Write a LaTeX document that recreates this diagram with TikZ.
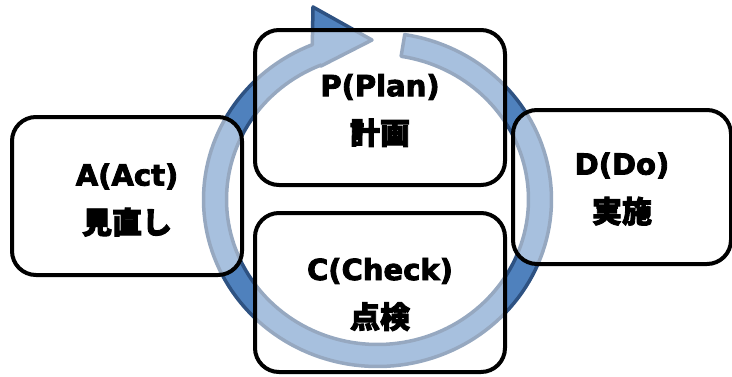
\documentclass[tikz,border=0pt]{standalone}
\usepackage{fontspec}
\newfontfamily\latinfont{DejaVu Sans}[BoldFeatures={FakeBold=3}]
\newfontfamily\jpfont{Noto Sans CJK JP}[BoldFeatures={FakeBold=3}]
\definecolor{arrowfill}{HTML}{4F81BD}
\definecolor{arrowline}{HTML}{2E5282}
\tikzset{
  cyclebox/.style={draw=black, line width=4pt, rounded corners=24pt, fill=white,
    fill opacity=0.5, inner sep=0pt},
  boxlabel/.style={align=center, inner sep=0pt,
    font=\fontsize{29}{48}\selectfont\bfseries},
  cyclearrow/.style={fill=arrowfill, draw=arrowline, line width=3.5pt, line join=round}
}
\newcommand{\boxtext}[2]{{\latinfont\bfseries #1}\\{\jpfont\bfseries\fontsize{30}{48}\selectfont #2}}
\begin{document}
\begin{tikzpicture}[x=1pt,y=-1pt]
\useasboundingbox (0,0) rectangle (732,376);
% circular arrow
\draw[cyclearrow]
  plot[domain=-81:248, samples=150] ({377.5+174*cos(\x)},{199.5+167*sin(\x)})
  -- (313,7) -- (372,40) -- (321,66)
  -- plot[domain=248:-81, samples=150] ({377.5+151*cos(\x)},{199.5+145*sin(\x)})
  -- cycle;
% boxes
\node[cyclebox, minimum width=250pt, minimum height=155pt] (plan) at (380,107.5) {};
\node[cyclebox, minimum width=250pt, minimum height=159pt] (check) at (380,292.5) {};
\node[cyclebox, minimum width=230pt, minimum height=158pt] (act) at (127,196) {};
\node[cyclebox, minimum width=218pt, minimum height=154pt] (do) at (622,187) {};
% labels
\node[boxlabel] (plantext) at ([yshift=-3pt]plan.center) {\boxtext{P(Plan)}{計画}};
\node[boxlabel] (checktext) at ([yshift=-2pt]check.center) {\boxtext{C(Check)}{点検}};
\node[boxlabel] (acttext) at ([yshift=-4pt]act.center) {\boxtext{A(Act)}{見直し}};
\node[boxlabel] (dotext) at ([yshift=-2pt]do.center) {\boxtext{D(Do)}{実施}};
\end{tikzpicture}
\end{document}
